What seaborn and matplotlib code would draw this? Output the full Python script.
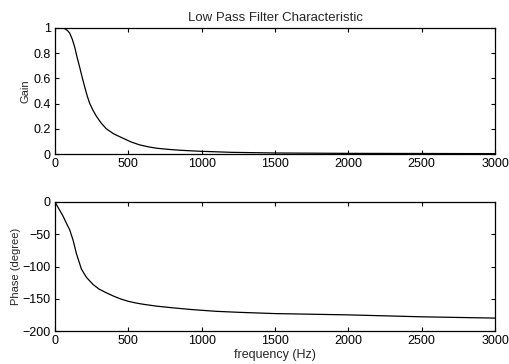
import matplotlib
matplotlib.use("Agg")
import matplotlib.pyplot as plt
import seaborn as sns
import pandas as pd

freq_gain = [0, 40, 66, 85, 100, 118, 134, 150, 168, 185, 203, 220, 237, 260, 282, 315, 350, 400, 464, 520, 578, 640, 692, 770, 850, 983, 1210, 1500, 2000, 2500, 3000]
gain = [1.0, 1.0, 0.995, 0.98, 0.96, 0.91, 0.85, 0.77, 0.69, 0.61, 0.53, 0.46, 0.40, 0.345, 0.30, 0.245, 0.20, 0.16, 0.125, 0.095, 0.072, 0.056, 0.046, 0.037, 0.03, 0.022, 0.013, 0.008, 0.005, 0.004, 0.003]

freq_phase = [0, 25, 55, 80, 100, 123, 146, 180, 215, 260, 300, 352, 400, 450, 500, 550, 600, 694, 800, 945, 1100, 1250, 1500, 2000, 2500, 3000]
phase = [0, -10, -22, -34, -43, -59, -80, -104, -117, -128, -135, -141, -146, -150.5, -154, -156.5, -158.5, -161.5, -164, -167, -169.5, -171, -173, -175, -178, -180]

sns.set_theme(style="white")
plt.rcParams['font.family'] = ['Liberation Sans', 'DejaVu Sans']

fig = plt.figure(figsize=(5.09, 3.64), dpi=100)
ax1 = fig.add_axes([55/509, 1-154/364, 440/509, 126/364])
ax2 = fig.add_axes([55/509, 1-331/364, 440/509, 129/364])

df1 = pd.DataFrame({"f": freq_gain, "g": gain})
df2 = pd.DataFrame({"f": freq_phase, "p": phase})
sns.lineplot(data=df1, x="f", y="g", ax=ax1, color="black", linewidth=0.9)
sns.lineplot(data=df2, x="f", y="p", ax=ax2, color="black", linewidth=0.9)

ax1.set_xlim(0, 3000); ax1.set_ylim(0, 1)
ax1.set_xticks([0, 500, 1000, 1500, 2000, 2500, 3000])
ax1.set_yticks([0, 0.2, 0.4, 0.6, 0.8, 1])
ax1.set_yticklabels(["0", "0.2", "0.4", "0.6", "0.8", "1"])
ax1.set_xlabel("")
ax1.set_ylabel("Gain", fontsize=8, labelpad=2)
ax1.set_title("Low Pass Filter Characteristic", fontsize=9.5, pad=5)

ax2.set_xlim(0, 3000); ax2.set_ylim(-200, 0)
ax2.set_xticks([0, 500, 1000, 1500, 2000, 2500, 3000])
ax2.set_yticks([-200, -150, -100, -50, 0])
ax2.set_xlabel("frequency (Hz)", fontsize=9, labelpad=1)
ax2.set_ylabel("Phase (degree)", fontsize=8, labelpad=1)

for ax in (ax1, ax2):
    for s in ax.spines.values():
        s.set_color("black"); s.set_linewidth(0.9)
    ax.tick_params(direction="in", length=3, width=0.8, labelsize=9, colors="black",
                   top=True, right=True, bottom=True, left=True, pad=3)

fig.savefig("out.png", dpi=100)
